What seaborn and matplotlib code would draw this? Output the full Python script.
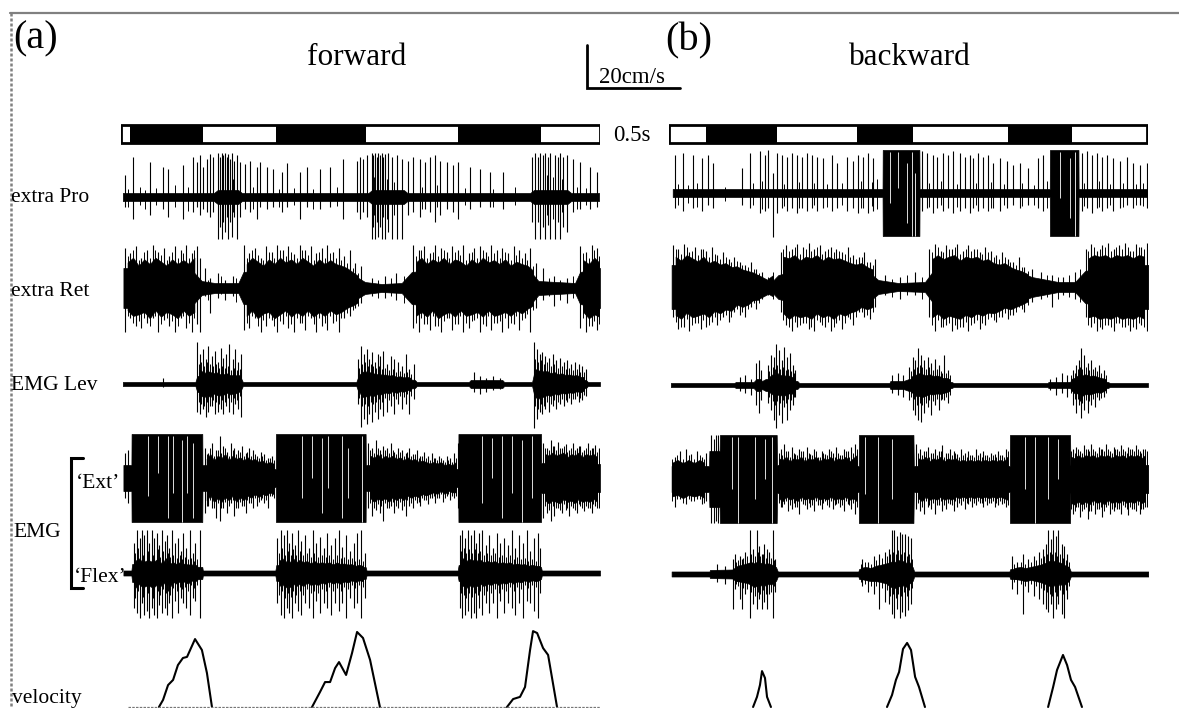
import numpy as np
import pandas as pd
import matplotlib
matplotlib.use("Agg")
import matplotlib.pyplot as plt
import seaborn as sns
from matplotlib.lines import Line2D

W, H = 1179, 708
sns.set_theme(style="white")
plt.rcParams['font.family'] = ['Liberation Serif', 'DejaVu Serif']

# ---------------- data (time in s, amplitudes in arbitrary units) ----------------
# step-cycle bars: black (stance) intervals
BAR_A_END = 2.575
BAR_A_BLACK = [(0.048, 0.441), (0.833, 1.317), (1.812, 2.258)]
BAR_B_END = 2.570
BAR_B_BLACK = [(0.199, 0.581), (1.011, 1.312), (1.823, 2.167)]

# extra Pro
PRO_A_ENV_T = [0.01, 0.50, 0.52, 0.63, 0.65, 1.33, 1.35, 1.52, 1.54, 2.20, 2.22, 2.40, 2.42, 2.57]
PRO_A_ENV_A = [4, 4, 7, 7, 4, 4, 7, 7, 4, 4, 7, 7, 4, 4]
PRO_A_SPIKES = [(0.022, 22, 10), (0.066, 40, 22), (0.156, 35, 18), (0.228, 30, 12), (0.254, 28, 20),
                (0.335, 32, 22), (0.389, 40, 15), (0.407, 35, 10), (0.425, 42, 18), (0.443, 30, 12),
                (0.461, 38, 15), (0.478, 43, 20), (0.496, 40, 15), (0.523, 44, 42), (0.532, 40, 30),
                (0.541, 44, 42), (0.55, 42, 25), (0.559, 44, 35), (0.568, 40, 20), (0.577, 43, 42),
                (0.586, 38, 25), (0.595, 44, 40), (0.608, 36, 20), (0.622, 42, 42), (0.640, 35, 20),
                (0.667, 33, 12), (0.694, 36, 15), (0.729, 30, 22), (0.747, 35, 10), (0.783, 30, 12),
                (0.819, 28, 10), (0.864, 25, 15), (0.891, 34, 10), (0.962, 25, 22), (0.998, 30, 10),
                (1.070, 28, 12), (1.124, 30, 10), (1.195, 38, 22), (1.267, 36, 15), (1.285, 40, 22),
                (1.303, 38, 15), (1.321, 42, 20), (1.348, 44, 42), (1.357, 42, 30), (1.366, 44, 42),
                (1.375, 40, 25), (1.384, 44, 40), (1.393, 42, 30), (1.401, 44, 42), (1.41, 40, 20),
                (1.419, 43, 42), (1.437, 44, 35), (1.455, 40, 42), (1.482, 42, 42), (1.509, 38, 42),
                (1.545, 36, 18), (1.572, 40, 15), (1.608, 38, 20), (1.634, 35, 12), (1.661, 40, 15),
                (1.688, 42, 25), (1.715, 36, 18), (1.751, 35, 12), (1.787, 32, 15), (1.814, 35, 22),
                (1.876, 30, 12), (1.930, 28, 10), (1.984, 25, 10), (2.056, 25, 12), (2.208, 40, 25),
                (2.226, 44, 42), (2.244, 40, 25), (2.253, 44, 42), (2.27, 42, 30), (2.280, 44, 42),
                (2.296, 40, 28), (2.306, 44, 42), (2.333, 42, 42), (2.35, 40, 25), (2.360, 44, 42),
                (2.378, 40, 30), (2.396, 42, 35), (2.432, 38, 15), (2.468, 35, 12), (2.521, 30, 12),
                (2.557, 25, 10)]
PRO_A_SPIKES2 = [(0.04, 8, 10), (0.10, 10, 8), (0.13, 7, 12), (0.19, 9, 8), (0.29, 12, 10),
                 (0.36, 10, 14), (0.52, 18, 20), (0.545, 22, 18), (0.575, 20, 22), (0.60, 18, 15),
                 (0.71, 10, 12), (0.85, 8, 10), (0.93, 9, 8), (1.03, 8, 12), (1.16, 10, 9),
                 (1.36, 20, 18), (1.39, 22, 20), (1.43, 18, 22), (1.47, 15, 18), (1.62, 10, 12),
                 (1.70, 12, 10), (1.85, 9, 8), (2.0, 8, 10), (2.12, 10, 8), (2.24, 18, 20),
                 (2.29, 22, 18), (2.32, 20, 22), (2.37, 18, 15), (2.45, 10, 12), (2.50, 9, 8)]
PRO_B_ENV_T = [0.02, 1.148, 1.149, 1.346, 1.347, 2.047, 2.048, 2.201, 2.202, 2.57]
PRO_B_ENV_A = [4, 4, 43, 43, 4, 4, 43, 43, 4, 4]
PRO_B_SPIKES = [(0.032, 38, 15), (0.077, 40, 18), (0.131, 38, 15), (0.176, 35, 18), (0.211, 38, 12),
                (0.238, 30, 15), (0.391, 25, 12), (0.435, 40, 15), (0.489, 42, 20), (0.516, 38, 18),
                (0.534, 43, 15), (0.557, 20, 44), (0.579, 40, 20), (0.606, 38, 15), (0.633, 36, 18),
                (0.659, 40, 15), (0.686, 38, 20), (0.713, 36, 15), (0.740, 40, 18), (0.767, 38, 15),
                (0.794, 36, 18), (0.830, 35, 15), (0.875, 38, 18), (0.901, 30, 15), (0.955, 36, 18),
                (0.991, 32, 15), (1.018, 38, 20), (1.045, 36, 15), (1.072, 40, 20), (1.099, 35, 18),
                (1.358, 42, 18), (1.385, 40, 15), (1.421, 38, 20), (1.439, 36, 15), (1.475, 40, 18),
                (1.502, 38, 15), (1.529, 42, 20), (1.565, 40, 18), (1.591, 36, 15), (1.618, 38, 20),
                (1.636, 35, 15), (1.663, 40, 18), (1.690, 36, 15), (1.717, 38, 18), (1.744, 30, 15),
                (1.780, 35, 18), (1.815, 32, 15), (1.851, 28, 12), (1.887, 30, 15), (1.932, 25, 12),
                (1.986, 35, 15), (2.013, 38, 18), (2.219, 40, 18), (2.246, 42, 15), (2.272, 38, 20),
                (2.299, 40, 15), (2.326, 36, 18), (2.353, 38, 15), (2.389, 35, 18), (2.425, 32, 15),
                (2.461, 36, 12), (2.496, 30, 15), (2.532, 28, 12), (2.568, 30, 15)]
PRO_B_SPIKES2 = [(0.05, 9, 12), (0.10, 8, 10), (0.15, 10, 14), (0.30, 6, 8), (0.45, 10, 12),
                 (0.50, 12, 16), (0.56, 10, 14), (0.62, 9, 13), (0.70, 11, 15), (0.78, 10, 12),
                 (0.85, 9, 14), (0.93, 10, 12), (1.03, 12, 15), (1.09, 11, 13), (1.12, 14, 16),
                 (1.40, 10, 14), (1.46, 12, 12), (1.55, 9, 14), (1.65, 10, 12), (1.73, 11, 15),
                 (1.80, 9, 12), (1.90, 10, 13), (1.96, 8, 12), (2.03, 12, 15), (2.23, 10, 13),
                 (2.31, 12, 14), (2.37, 9, 12), (2.44, 10, 14), (2.51, 9, 12), (2.55, 10, 13)]
PRO_B_GAPS = [(1.188, 41, -10), (1.233, 41, 5), (1.278, 30, -30), (1.305, 41, -43), (1.323, 20, -43),
              (2.102, 41, -5), (2.156, 35, -25), (2.183, 41, -43)]

# extra Ret
RET_A_ENV_T = [0.013, 0.380, 0.434, 0.505, 0.631, 0.658, 0.864, 1.133, 1.240, 1.312, 1.401, 1.509,
               1.563, 1.760, 2.118, 2.217, 2.244, 2.441, 2.468, 2.575]
RET_A_ENV_A = [20, 18, 7, 5, 5, 16, 20, 20, 14, 6, 4, 5, 16, 20, 20, 13, 7, 5, 16, 20]
RET_A_SPIKES = [(0.02, 40, 44), (0.05, 35, 30), (0.08, 42, 38), (0.11, 30, 40), (0.14, 38, 35),
                (0.17, 43, 30), (0.2, 36, 44), (0.23, 40, 32), (0.26, 32, 38), (0.29, 42, 44),
                (0.32, 38, 30), (0.35, 43, 40), (0.38, 35, 44), (0.41, 42, 36), (0.425, 30, 44),
                (0.45, 20, 8), (0.48, 10, 25), (0.52, 15, 10), (0.56, 8, 12), (0.60, 12, 8),
                (0.66, 43, 42), (0.69, 35, 40), (0.72, 40, 30), (0.75, 30, 44), (0.78, 42, 38),
                (0.81, 36, 32), (0.84, 43, 44), (0.87, 38, 36), (0.90, 42, 40), (0.93, 34, 44),
                (0.96, 43, 35), (0.99, 38, 42), (1.02, 42, 30), (1.05, 35, 44), (1.08, 40, 38),
                (1.11, 43, 42), (1.14, 36, 35), (1.17, 40, 44), (1.20, 32, 30), (1.23, 38, 28),
                (1.26, 25, 20), (1.29, 22, 15), (1.35, 10, 8), (1.42, 12, 10), (1.48, 15, 12),
                (1.57, 43, 40), (1.60, 38, 44), (1.63, 42, 36), (1.66, 35, 42), (1.69, 43, 38),
                (1.72, 40, 44), (1.75, 36, 30), (1.78, 42, 42), (1.81, 38, 36), (1.84, 43, 44),
                (1.87, 35, 40), (1.90, 40, 32), (1.93, 42, 44), (1.96, 36, 38), (1.99, 43, 42),
                (2.02, 38, 35), (2.05, 40, 44), (2.08, 35, 40), (2.11, 42, 36), (2.14, 38, 42),
                (2.17, 35, 30), (2.20, 40, 44), (2.23, 25, 20), (2.27, 20, 12), (2.33, 12, 18),
                (2.40, 10, 15), (2.47, 42, 40), (2.50, 36, 44), (2.53, 43, 38), (2.56, 40, 42)]
RET_A_SPIKES2 = [(0.035, 32, 28), (0.065, 38, 35), (0.095, 28, 33), (0.125, 36, 30), (0.155, 30, 38),
                 (0.185, 38, 28), (0.215, 33, 36), (0.245, 28, 30), (0.275, 36, 33), (0.305, 30, 38),
                 (0.335, 35, 28), (0.365, 30, 35), (0.395, 38, 30), (0.47, 8, 12), (0.54, 12, 6),
                 (0.62, 10, 14), (0.675, 30, 35), (0.705, 38, 28), (0.735, 33, 38), (0.765, 28, 32),
                 (0.795, 36, 30), (0.825, 30, 38), (0.855, 38, 33), (0.885, 32, 28), (0.915, 36, 36),
                 (0.945, 30, 30), (0.975, 38, 35), (1.005, 33, 28), (1.035, 28, 36), (1.065, 36, 30),
                 (1.095, 30, 35), (1.125, 35, 28), (1.155, 30, 33), (1.185, 28, 30), (1.215, 25, 25),
                 (1.245, 20, 22), (1.275, 15, 18), (1.38, 8, 10), (1.45, 10, 8), (1.52, 12, 15),
                 (1.585, 32, 35), (1.615, 38, 30), (1.645, 30, 36), (1.675, 36, 28), (1.705, 32, 38),
                 (1.735, 38, 33), (1.765, 30, 30), (1.795, 36, 36), (1.825, 33, 28), (1.855, 28, 35),
                 (1.885, 36, 33), (1.915, 30, 30), (1.945, 38, 36), (1.975, 32, 28), (2.005, 35, 35),
                 (2.035, 30, 33), (2.065, 36, 30), (2.095, 28, 35), (2.125, 33, 28), (2.155, 30, 32),
                 (2.185, 28, 26), (2.215, 22, 22), (2.30, 10, 8), (2.36, 8, 12), (2.43, 12, 10),
                 (2.485, 35, 30), (2.515, 30, 38), (2.545, 38, 33), (2.57, 32, 36)]
RET_B_ENV_T = [0.014, 0.247, 0.480, 0.552, 0.588, 0.785, 1.054, 1.125, 1.233, 1.376, 1.412, 1.591,
               1.860, 1.950, 2.093, 2.183, 2.237, 2.398, 2.577]
RET_B_ENV_A = [22, 20, 12, 5, 12, 20, 18, 7, 4, 5, 14, 20, 17, 10, 5, 5, 16, 22, 22]
RET_B_SPIKES = [(0.02, 42, 30), (0.05, 38, 42), (0.08, 43, 40), (0.11, 35, 44), (0.14, 40, 36),
                (0.17, 38, 42), (0.20, 36, 40), (0.23, 40, 35), (0.26, 32, 38), (0.29, 35, 30),
                (0.32, 28, 35), (0.35, 30, 25), (0.38, 25, 28), (0.41, 22, 30), (0.44, 25, 20),
                (0.47, 18, 22), (0.50, 15, 12), (0.60, 35, 25), (0.63, 42, 38), (0.66, 38, 44),
                (0.69, 43, 40), (0.72, 40, 36), (0.75, 44, 42), (0.78, 38, 44), (0.81, 42, 35),
                (0.84, 36, 40), (0.87, 40, 44), (0.90, 38, 36), (0.93, 35, 42), (0.96, 40, 30),
                (0.99, 32, 38), (1.02, 30, 25), (1.05, 35, 30), (1.08, 25, 32), (1.11, 28, 20),
                (1.16, 12, 8), (1.24, 10, 12), (1.32, 15, 8), (1.40, 38, 30), (1.43, 43, 44),
                (1.46, 36, 40), (1.49, 42, 38), (1.52, 38, 44), (1.55, 43, 42), (1.58, 36, 40),
                (1.61, 42, 44), (1.64, 38, 36), (1.67, 35, 42), (1.70, 40, 38), (1.73, 36, 30),
                (1.76, 32, 35), (1.79, 35, 30), (1.82, 28, 32), (1.85, 25, 28), (1.88, 30, 20),
                (1.91, 20, 25), (1.95, 18, 15), (2.00, 15, 12), (2.06, 12, 20), (2.12, 10, 8),
                (2.18, 15, 12), (2.24, 38, 30), (2.27, 43, 40), (2.30, 36, 44), (2.33, 42, 42),
                (2.36, 44, 38), (2.39, 38, 44), (2.42, 42, 36), (2.45, 44, 40), (2.48, 36, 44),
                (2.51, 43, 42), (2.54, 40, 38), (2.57, 44, 44)]
RET_B_SPIKES2 = [(0.035, 38, 35), (0.065, 33, 40), (0.095, 40, 32), (0.125, 36, 38), (0.155, 32, 36),
                 (0.185, 38, 33), (0.215, 30, 38), (0.245, 33, 30), (0.275, 28, 33), (0.305, 30, 28),
                 (0.335, 25, 30), (0.365, 26, 22), (0.395, 22, 25), (0.425, 20, 22), (0.455, 18, 16),
                 (0.485, 14, 16), (0.53, 10, 8), (0.56, 15, 12), (0.615, 38, 33), (0.645, 36, 40),
                 (0.675, 40, 35), (0.705, 33, 38), (0.735, 38, 36), (0.765, 36, 40), (0.795, 40, 33),
                 (0.825, 33, 38), (0.855, 38, 35), (0.885, 35, 40), (0.915, 36, 33), (0.945, 33, 36),
                 (0.975, 30, 32), (1.005, 28, 30), (1.035, 30, 25), (1.065, 25, 28), (1.095, 22, 25),
                 (1.20, 8, 10), (1.28, 12, 8), (1.36, 10, 12), (1.415, 35, 38), (1.445, 40, 33),
                 (1.475, 35, 40), (1.505, 38, 36), (1.535, 40, 38), (1.565, 33, 40), (1.595, 38, 35),
                 (1.625, 36, 38), (1.655, 38, 33), (1.685, 33, 36), (1.715, 35, 32), (1.745, 30, 33),
                 (1.775, 28, 30), (1.805, 30, 26), (1.835, 25, 28), (1.865, 22, 25), (1.895, 20, 22),
                 (1.93, 16, 18), (2.03, 12, 10), (2.09, 10, 12), (2.15, 12, 10), (2.21, 18, 15),
                 (2.255, 36, 38), (2.285, 40, 36), (2.315, 38, 40), (2.345, 40, 38), (2.375, 36, 40),
                 (2.405, 40, 36), (2.435, 38, 40), (2.465, 40, 38), (2.495, 36, 40), (2.525, 40, 36),
                 (2.555, 38, 40)]

# EMG Lev
LEV_A_ENV_T = [0.01, 0.40, 0.41, 0.60, 0.645, 0.655, 1.265, 1.275, 1.50, 1.58, 1.59, 1.87, 1.88,
               2.05, 2.06, 2.21, 2.22, 2.35, 2.50, 2.51, 2.575]
LEV_A_ENV_A = [2, 2, 8, 8, 6, 2, 2, 7, 6, 4, 2, 2, 4, 4, 2, 2, 10, 7, 4, 2, 2]
LEV_A_SPIKES = [(0.228, 6, 3), (0.41, 42, 28), (0.425, 30, 30), (0.44, 35, 25), (0.455, 25, 33),
                (0.47, 38, 28), (0.49, 28, 22), (0.505, 33, 30), (0.52, 22, 28), (0.535, 36, 25),
                (0.55, 26, 30), (0.565, 30, 22), (0.58, 40, 28), (0.60, 25, 30), (0.615, 35, 20),
                (0.63, 22, 25), (0.645, 30, 33), (1.275, 25, 20), (1.29, 38, 43), (1.305, 30, 35),
                (1.32, 35, 40), (1.335, 25, 30), (1.35, 32, 38), (1.365, 22, 28), (1.38, 30, 35),
                (1.395, 28, 25), (1.41, 33, 32), (1.43, 20, 28), (1.45, 28, 22), (1.47, 25, 30),
                (1.49, 22, 20), (1.51, 18, 25), (1.53, 30, 20), (1.55, 15, 30), (1.575, 20, 15),
                (1.90, 12, 8), (1.93, 8, 10), (1.96, 6, 8), (2.00, 8, 6), (2.04, 6, 5),
                (2.22, 42, 44), (2.235, 35, 35), (2.25, 30, 28), (2.265, 32, 30), (2.28, 28, 25),
                (2.30, 26, 28), (2.32, 30, 22), (2.34, 24, 25), (2.36, 26, 20), (2.38, 22, 22),
                (2.40, 24, 18), (2.42, 20, 20), (2.44, 22, 15), (2.46, 20, 18), (2.48, 18, 16),
                (2.50, 15, 12)]
LEV_A_SPIKES2 = [(0.418, 20, 18), (0.432, 22, 20), (0.448, 18, 22), (0.462, 22, 18), (0.48, 20, 22),
                 (0.497, 18, 16), (0.512, 20, 18), (0.528, 16, 20), (0.543, 18, 16), (0.558, 16, 18),
                 (0.573, 18, 14), (0.59, 14, 18), (0.607, 16, 14), (0.623, 14, 16), (0.638, 15, 12),
                 (1.282, 16, 14), (1.297, 20, 22), (1.312, 22, 20), (1.328, 18, 22), (1.342, 20, 18),
                 (1.357, 18, 20), (1.372, 16, 18), (1.388, 18, 15), (1.402, 15, 18), (1.42, 16, 14),
                 (1.44, 14, 16), (1.46, 15, 12), (1.48, 12, 15), (1.50, 13, 12), (1.52, 11, 13),
                 (1.54, 12, 10), (1.56, 10, 12), (2.228, 25, 22), (2.243, 22, 25), (2.258, 24, 20),
                 (2.273, 20, 22), (2.29, 22, 18), (2.31, 18, 20), (2.33, 20, 16), (2.35, 16, 18),
                 (2.37, 18, 15), (2.39, 15, 16), (2.41, 16, 14), (2.43, 14, 15), (2.45, 15, 12),
                 (2.47, 12, 14), (2.49, 12, 11)]
LEV_B_ENV_T = [0.01, 0.35, 0.36, 0.455, 0.47, 0.49, 0.50, 0.52, 0.60, 0.69, 0.70, 1.185, 1.19, 1.26,
               1.29, 1.45, 1.52, 1.53, 2.035, 2.04, 2.15, 2.20, 2.30, 2.36, 2.37, 2.575]
LEV_B_ENV_A = [2, 2, 3, 3, 6, 6, 4, 6, 6, 4, 2, 2, 4, 4, 6, 5, 3, 2, 2, 3, 3, 6, 5, 3, 2, 2]
LEV_B_SPIKES = [(0.38, 8, 6), (0.41, 10, 8), (0.44, 6, 10), (0.47, 22, 20), (0.485, 25, 28),
                (0.495, 15, 15), (0.53, 20, 18), (0.55, 30, 25), (0.565, 28, 35), (0.575, 41, 43),
                (0.59, 35, 30), (0.605, 25, 38), (0.62, 38, 22), (0.635, 28, 35), (0.65, 32, 25),
                (0.665, 20, 20), (0.68, 15, 12), (1.20, 10, 8), (1.23, 12, 10), (1.26, 10, 12),
                (1.29, 18, 15), (1.31, 28, 25), (1.325, 25, 30), (1.34, 37, 35), (1.355, 30, 37),
                (1.37, 25, 28), (1.39, 28, 22), (1.41, 22, 30), (1.43, 26, 20), (1.45, 20, 25),
                (1.48, 30, 15), (1.50, 15, 18), (2.05, 6, 5), (2.08, 8, 10), (2.11, 12, 8),
                (2.14, 10, 12), (2.17, 15, 20), (2.19, 20, 28), (2.205, 25, 20), (2.215, 37, 33),
                (2.23, 30, 25), (2.25, 22, 28), (2.27, 25, 20), (2.29, 18, 22), (2.31, 20, 15),
                (2.34, 15, 12)]
LEV_B_SPIKES2 = [(0.54, 14, 12), (0.557, 18, 16), (0.57, 16, 20), (0.583, 20, 16), (0.598, 16, 18),
                 (0.612, 18, 15), (0.628, 15, 18), (0.642, 16, 14), (0.658, 14, 15), (0.672, 12, 12),
                 (1.30, 14, 12), (1.318, 16, 14), (1.333, 18, 20), (1.348, 20, 18), (1.362, 18, 20),
                 (1.38, 16, 18), (1.40, 18, 15), (1.42, 15, 16), (1.44, 16, 14), (1.46, 14, 15),
                 (1.47, 12, 14), (1.49, 12, 12), (1.51, 10, 10), (2.16, 10, 8), (2.18, 12, 14),
                 (2.198, 16, 14), (2.21, 18, 16), (2.222, 16, 18), (2.24, 18, 15), (2.26, 15, 16),
                 (2.28, 16, 14), (2.30, 14, 12), (2.32, 12, 13), (2.35, 10, 8)]

# EMG 'Ext'
EXT_A_ENV_T = [0.013, 0.056, 0.057, 0.437, 0.438, 0.55, 0.70, 0.832, 0.833, 1.315, 1.316, 1.45,
               1.65, 1.813, 1.814, 2.258, 2.259, 2.40, 2.575]
EXT_A_ENV_A = [13, 13, 44, 44, 13, 12, 10, 9, 44, 44, 13, 12, 10, 9, 44, 44, 15, 14, 14]
EXT_A_SPIKES = [(0.02, 25, 20), (0.04, 28, 25), (0.45, 30, 35), (0.47, 25, 28), (0.49, 35, 30),
                (0.51, 28, 40), (0.53, 42, 43), (0.55, 32, 30), (0.57, 26, 35), (0.59, 35, 25),
                (0.61, 30, 38), (0.63, 28, 30), (0.65, 32, 28), (0.67, 25, 35), (0.69, 30, 25),
                (0.71, 28, 30), (0.73, 22, 28), (0.75, 26, 22), (0.77, 24, 25), (0.79, 20, 30),
                (0.81, 22, 18), (1.33, 35, 30), (1.35, 30, 38), (1.37, 38, 32), (1.39, 28, 35),
                (1.41, 32, 43), (1.43, 30, 30), (1.45, 35, 28), (1.47, 26, 35), (1.49, 30, 30),
                (1.51, 28, 32), (1.53, 25, 38), (1.55, 30, 28), (1.57, 24, 30), (1.59, 28, 25),
                (1.61, 22, 28), (1.63, 26, 22), (1.65, 22, 26), (1.67, 25, 20), (1.69, 20, 25),
                (1.71, 22, 20), (1.73, 18, 24), (1.75, 22, 18), (1.77, 20, 22), (1.79, 25, 20),
                (1.81, 35, 30), (2.27, 35, 40), (2.29, 30, 35), (2.31, 38, 43), (2.33, 32, 38),
                (2.35, 36, 30), (2.37, 30, 35), (2.39, 34, 32), (2.41, 28, 38), (2.43, 35, 30),
                (2.45, 30, 35), (2.47, 32, 28), (2.49, 28, 33), (2.51, 35, 30), (2.53, 30, 35),
                (2.55, 33, 28), (2.57, 30, 30)]
EXT_A_SPIKES2 = [(0.46, 24, 28), (0.48, 30, 22), (0.50, 22, 30), (0.52, 28, 25), (0.54, 25, 30),
                 (0.56, 30, 24), (0.58, 22, 28), (0.60, 28, 22), (0.62, 24, 30), (0.64, 26, 24),
                 (0.66, 22, 28), (0.68, 26, 22), (0.70, 22, 25), (0.72, 24, 20), (0.74, 20, 24),
                 (0.76, 22, 20), (0.78, 18, 22), (0.80, 20, 18), (0.82, 18, 20), (1.34, 28, 25),
                 (1.36, 25, 30), (1.38, 30, 26), (1.40, 24, 28), (1.42, 28, 25), (1.44, 25, 30),
                 (1.46, 28, 24), (1.48, 24, 28), (1.50, 26, 24), (1.52, 22, 28), (1.54, 26, 22),
                 (1.56, 22, 25), (1.58, 24, 22), (1.60, 20, 24), (1.62, 22, 20), (1.64, 20, 22),
                 (1.66, 18, 20), (1.68, 20, 18), (1.70, 18, 20), (1.72, 20, 16), (1.74, 16, 20),
                 (1.76, 18, 16), (1.78, 16, 18), (1.80, 20, 18), (2.28, 30, 28), (2.30, 28, 32),
                 (2.32, 32, 28), (2.34, 28, 30), (2.36, 30, 32), (2.38, 32, 26), (2.40, 26, 30),
                 (2.42, 30, 28), (2.44, 28, 32), (2.46, 32, 26), (2.48, 26, 30), (2.50, 30, 28),
                 (2.52, 28, 30), (2.54, 30, 26), (2.56, 26, 30)]
EXT_A_GAPS = [(0.147, 42, -18), (0.201, 42, 5), (0.254, 42, -40), (0.281, 42, -15), (0.326, 38, -44),
              (0.353, 42, -15), (0.389, 35, -40), (0.971, 42, -20), (1.025, 42, 0), (1.079, 40, -35),
              (1.115, 42, -10), (1.186, 42, -40), (1.222, 30, -20), (1.294, 42, -44),
              (1.939, 42, -25), (1.993, 40, 0), (2.047, 42, -40), (2.100, 42, -15), (2.154, 38, -44),
              (2.208, 42, -20)]
EXT_B_ENV_T = [0.014, 0.215, 0.217, 0.272, 0.274, 0.579, 0.581, 1.02, 1.021, 1.314, 1.316, 1.832,
               1.833, 2.156, 2.158, 2.577]
EXT_B_ENV_A = [13, 13, 28, 28, 44, 44, 14, 13, 44, 44, 13, 13, 44, 44, 14, 14]
EXT_B_SPIKES = [(0.03, 22, 28), (0.06, 28, 20), (0.09, 30, 25), (0.12, 25, 22), (0.15, 28, 20),
                (0.18, 22, 25), (0.20, 26, 22), (0.225, 44, 44), (0.24, 40, 44), (0.255, 44, 42),
                (0.265, 44, 44), (0.60, 30, 28), (0.62, 35, 25), (0.64, 28, 32), (0.66, 32, 30),
                (0.68, 25, 28), (0.70, 30, 35), (0.72, 28, 25), (0.74, 32, 30), (0.76, 25, 28),
                (0.78, 30, 32), (0.80, 22, 26), (0.82, 28, 30), (0.84, 25, 22), (0.86, 30, 28),
                (0.88, 26, 30), (0.90, 32, 25), (0.92, 24, 28), (0.94, 30, 32), (0.96, 28, 25),
                (0.98, 32, 30), (1.00, 35, 35), (1.33, 35, 30), (1.35, 30, 32), (1.37, 28, 35),
                (1.39, 32, 28), (1.41, 26, 30), (1.43, 30, 35), (1.45, 28, 26), (1.47, 34, 32),
                (1.49, 26, 30), (1.51, 30, 25), (1.53, 28, 32), (1.55, 25, 28), (1.57, 30, 26),
                (1.59, 26, 30), (1.61, 28, 25), (1.63, 24, 28), (1.65, 30, 26), (1.67, 26, 24),
                (1.69, 28, 28), (1.71, 24, 26), (1.73, 26, 24), (1.75, 25, 28), (1.77, 28, 26),
                (1.79, 24, 25), (1.81, 30, 28), (2.17, 30, 35), (2.19, 32, 28), (2.21, 28, 38),
                (2.23, 34, 30), (2.25, 30, 40), (2.27, 35, 32), (2.29, 28, 35), (2.31, 32, 30),
                (2.33, 30, 38), (2.35, 35, 28), (2.37, 28, 35), (2.39, 32, 32), (2.41, 30, 30),
                (2.43, 34, 35), (2.45, 28, 28), (2.47, 32, 36), (2.49, 30, 30), (2.51, 34, 32),
                (2.53, 28, 35), (2.55, 30, 30), (2.57, 28, 28)]
EXT_B_SPIKES2 = [(0.015, 20, 22), (0.045, 24, 20), (0.075, 20, 24), (0.105, 24, 20), (0.135, 20, 22),
                 (0.165, 24, 20), (0.19, 20, 24), (0.59, 26, 24), (0.61, 24, 28), (0.63, 28, 22),
                 (0.65, 22, 26), (0.67, 26, 24), (0.69, 24, 28), (0.71, 28, 22), (0.73, 22, 26),
                 (0.75, 26, 24), (0.77, 24, 26), (0.79, 28, 22), (0.81, 22, 26), (0.83, 26, 24),
                 (0.85, 24, 26), (0.87, 28, 22), (0.89, 22, 26), (0.91, 26, 24), (0.93, 24, 26),
                 (0.95, 28, 22), (0.97, 22, 26), (0.99, 26, 24), (1.01, 30, 28), (1.34, 26, 24),
                 (1.36, 24, 28), (1.38, 28, 22), (1.40, 22, 26), (1.42, 26, 24), (1.44, 24, 26),
                 (1.46, 28, 22), (1.48, 22, 26), (1.50, 26, 24), (1.52, 24, 26), (1.54, 26, 22),
                 (1.56, 22, 24), (1.58, 24, 22), (1.60, 22, 24), (1.62, 24, 22), (1.64, 22, 24),
                 (1.66, 24, 22), (1.68, 22, 24), (1.70, 24, 22), (1.72, 22, 24), (1.74, 24, 22),
                 (1.76, 22, 24), (1.78, 24, 22), (1.80, 22, 24), (1.82, 28, 26), (2.16, 28, 30),
                 (2.18, 26, 32), (2.20, 30, 28), (2.22, 26, 32), (2.24, 30, 28), (2.26, 28, 32),
                 (2.28, 30, 26), (2.30, 26, 30), (2.32, 30, 28), (2.34, 28, 32), (2.36, 30, 26),
                 (2.38, 26, 30), (2.40, 30, 28), (2.42, 28, 30), (2.44, 30, 26), (2.46, 26, 30),
                 (2.48, 30, 28), (2.50, 28, 30), (2.52, 30, 26), (2.54, 26, 30), (2.56, 30, 28)]
EXT_B_GAPS = [(0.337, 42, -10), (0.373, 42, -44), (0.462, 42, -20), (0.516, 40, 0), (0.552, 42, -44),
              (1.054, 42, -15), (1.125, 42, -44), (1.197, 40, -20), (1.914, 42, -10), (1.968, 42, -44),
              (2.039, 42, -20), (2.093, 40, 0)]

# EMG 'Flex'
FLEX_A_ENV_T = [0.013, 0.056, 0.06, 0.25, 0.437, 0.44, 0.83, 0.835, 1.0, 1.315, 1.32, 1.81, 1.815,
                2.0, 2.258, 2.262, 2.575]
FLEX_A_ENV_A = [2.5, 2.5, 9, 8, 6, 2.5, 2.5, 8, 7, 6, 2.5, 2.5, 8, 7, 6, 2.5, 2.5]
FLEX_A_SPIKES = [(0.07, 30, 35), (0.084, 43, 40), (0.10, 35, 45), (0.111, 43, 30), (0.125, 38, 42),
                 (0.138, 43, 38), (0.152, 30, 45), (0.165, 43, 35), (0.18, 35, 42), (0.192, 40, 45),
                 (0.205, 28, 32), (0.219, 43, 40), (0.235, 32, 35), (0.246, 38, 42), (0.26, 25, 30),
                 (0.272, 43, 45), (0.29, 30, 28), (0.308, 35, 40), (0.32, 22, 25), (0.335, 40, 30),
                 (0.35, 25, 35), (0.371, 43, 42), (0.385, 20, 25), (0.398, 30, 28), (0.425, 43, 45),
                 (0.84, 35, 30), (0.86, 43, 42), (0.875, 38, 45), (0.89, 43, 35), (0.905, 30, 40),
                 (0.92, 40, 45), (0.935, 28, 30), (0.95, 43, 38), (0.97, 32, 42), (0.99, 38, 30),
                 (1.01, 25, 35), (1.03, 43, 45), (1.05, 30, 28), (1.07, 36, 40), (1.09, 25, 30),
                 (1.11, 40, 35), (1.13, 28, 42), (1.15, 35, 30), (1.17, 43, 38), (1.19, 26, 30),
                 (1.21, 38, 45), (1.23, 22, 25), (1.25, 30, 35), (1.27, 40, 30), (1.29, 43, 45),
                 (1.31, 20, 25), (1.82, 38, 35), (1.835, 43, 45), (1.85, 35, 42), (1.865, 43, 38),
                 (1.88, 38, 45), (1.895, 43, 40), (1.91, 30, 45), (1.925, 40, 35), (1.94, 43, 42),
                 (1.96, 28, 30), (1.98, 38, 40), (2.00, 25, 30), (2.02, 40, 45), (2.04, 30, 28),
                 (2.06, 35, 40), (2.08, 28, 30), (2.10, 43, 35), (2.12, 25, 42), (2.14, 38, 30),
                 (2.16, 30, 45), (2.18, 43, 28), (2.20, 22, 30), (2.22, 35, 38), (2.24, 40, 45),
                 (2.255, 25, 20)]
FLEX_A_SPIKES2 = [(0.077, 20, 25), (0.093, 25, 18), (0.118, 18, 24), (0.145, 22, 20), (0.172, 18, 25),
                  (0.198, 24, 18), (0.212, 16, 22), (0.228, 22, 16), (0.24, 15, 20), (0.253, 20, 18),
                  (0.266, 16, 22), (0.28, 18, 15), (0.30, 15, 18), (0.315, 18, 14), (0.328, 14, 16),
                  (0.342, 16, 14), (0.36, 14, 18), (0.378, 15, 12), (0.39, 12, 15), (0.41, 14, 12),
                  (0.85, 20, 22), (0.867, 25, 18), (0.882, 18, 25), (0.897, 22, 20), (0.912, 18, 24),
                  (0.927, 24, 18), (0.942, 18, 22), (0.96, 22, 18), (0.98, 18, 22), (1.00, 20, 16),
                  (1.02, 16, 20), (1.04, 20, 18), (1.06, 16, 20), (1.08, 18, 16), (1.10, 16, 18),
                  (1.12, 18, 14), (1.14, 14, 18), (1.16, 18, 15), (1.18, 15, 18), (1.20, 16, 14),
                  (1.22, 14, 16), (1.24, 15, 12), (1.26, 12, 15), (1.28, 14, 12), (1.30, 12, 14),
                  (1.828, 22, 20), (1.842, 25, 22), (1.857, 20, 25), (1.872, 24, 20), (1.887, 20, 24),
                  (1.902, 24, 20), (1.917, 20, 22), (1.932, 22, 18), (1.95, 18, 22), (1.97, 20, 18),
                  (1.99, 18, 20), (2.01, 20, 16), (2.03, 16, 20), (2.05, 18, 16), (2.07, 16, 18),
                  (2.09, 18, 14), (2.11, 14, 18), (2.13, 16, 14), (2.15, 14, 16), (2.17, 15, 12),
                  (2.19, 12, 15), (2.21, 14, 12), (2.23, 12, 14), (2.25, 12, 12)]
FLEX_B_ENV_T = [0.014, 0.218, 0.22, 0.34, 0.36, 0.575, 0.585, 1.018, 1.022, 1.15, 1.20, 1.31, 1.318,
                1.83, 1.835, 1.95, 2.0, 2.15, 2.16, 2.577]
FLEX_B_ENV_A = [2.5, 2.5, 4, 4.5, 7, 7, 2.5, 2.5, 5, 6, 8, 7, 2.5, 2.5, 5, 5, 7, 7, 2.5, 2.5]
FLEX_B_SPIKES = [(0.26, 10, 8), (0.30, 8, 10), (0.346, 15, 35), (0.355, 20, 15), (0.38, 18, 25),
                 (0.391, 15, 35), (0.41, 22, 20), (0.435, 44, 44), (0.45, 25, 30), (0.471, 44, 35),
                 (0.485, 28, 25), (0.498, 20, 35), (0.51, 30, 28), (0.525, 25, 35), (0.54, 22, 20),
                 (0.561, 44, 44), (0.57, 15, 18), (1.04, 15, 12), (1.07, 12, 18), (1.10, 18, 20),
                 (1.13, 20, 35), (1.16, 22, 28), (1.18, 25, 30), (1.197, 44, 40), (1.21, 44, 44),
                 (1.225, 38, 35), (1.24, 42, 44), (1.255, 40, 38), (1.27, 40, 42), (1.285, 38, 36),
                 (1.30, 36, 30), (1.845, 18, 15), (1.87, 12, 20), (1.905, 20, 40), (1.93, 15, 18),
                 (1.96, 18, 22), (1.99, 22, 25), (2.01, 25, 30), (2.025, 30, 35), (2.039, 44, 38),
                 (2.052, 35, 30), (2.066, 44, 44), (2.08, 38, 35), (2.093, 44, 30), (2.11, 30, 40),
                 (2.125, 28, 44), (2.14, 20, 25)]
FLEX_B_SPIKES2 = [(0.36, 12, 10), (0.37, 14, 12), (0.40, 16, 14), (0.42, 18, 15), (0.44, 20, 18),
                  (0.46, 18, 22), (0.48, 22, 18), (0.49, 18, 20), (0.505, 20, 16), (0.52, 16, 20),
                  (0.535, 18, 16), (0.55, 16, 18), (0.565, 14, 12), (1.03, 10, 8), (1.055, 12, 10),
                  (1.085, 10, 12), (1.115, 14, 12), (1.145, 16, 14), (1.17, 18, 16), (1.19, 20, 22),
                  (1.205, 22, 20), (1.218, 20, 24), (1.232, 24, 20), (1.248, 20, 22), (1.262, 22, 18),
                  (1.278, 18, 22), (1.292, 20, 16), (1.305, 15, 14), (1.855, 10, 8), (1.89, 12, 10),
                  (1.915, 10, 12), (1.945, 12, 10), (1.975, 14, 12), (2.00, 16, 14), (2.018, 18, 16),
                  (2.032, 20, 18), (2.046, 22, 20), (2.06, 20, 22), (2.073, 22, 18), (2.087, 18, 22),
                  (2.10, 20, 16), (2.118, 16, 20), (2.133, 14, 16), (2.148, 12, 12)]

# velocity (cm/s), peak id
VEL_A_T = [0.204, 0.226, 0.253, 0.280, 0.306, 0.333, 0.355, 0.398, 0.435, 0.462, 0.489,
           1.027, 1.070, 1.097, 1.124, 1.151, 1.172, 1.210, 1.242, 1.269, 1.301, 1.339, 1.392,
           2.075, 2.108, 2.145, 2.172, 2.199, 2.215, 2.237, 2.269, 2.296, 2.344]
VEL_A_V = [0, 3.3, 10.2, 12.6, 19.5, 22.8, 23.3, 31.6, 26.5, 15.8, 0,
           0, 7.0, 11.6, 11.6, 18.1, 20.9, 14.9, 25.1, 34.9, 32.1, 21.9, 0,
           0, 3.7, 4.7, 9.3, 26.5, 35.3, 34.4, 27.4, 24.2, 0]
VEL_A_PEAK = [1] * 11 + [2] * 12 + [3] * 10
VEL_B_T = [0.452, 0.473, 0.489, 0.500, 0.516, 0.527, 0.548,
           1.172, 1.199, 1.220, 1.237, 1.258, 1.280, 1.301, 1.323, 1.344, 1.376,
           2.038, 2.065, 2.086, 2.118, 2.140, 2.161, 2.183, 2.220]
VEL_B_V = [0, 4.7, 10.2, 16.7, 13.5, 4.7, 0,
           0, 5.6, 12.6, 16.3, 27.0, 29.8, 26.5, 14.0, 9.3, 0,
           0, 9.3, 17.2, 24.2, 19.5, 12.6, 9.3, 0]
VEL_B_PEAK = [1] * 7 + [2] * 10 + [3] * 8

ROW_LABELS = ["extra Pro", "extra Ret", "EMG Lev", "EMG", "velocity"]
SCALE_V = 20      # cm/s
SCALE_T = 0.5     # s

# ---------------- layout ----------------
PX_PER_CMS = 43 / 20.0
fig = plt.figure(figsize=(W / 100, H / 100), dpi=100)
fig.patch.set_facecolor('white')


def panel(left_px):
    ax = fig.add_axes([left_px / W, 0, 479 / W, 1])
    ax.set_xlim(0, 2.575)
    ax.set_ylim(0, H)
    ax.set_axis_off()
    ax.patch.set_alpha(0)
    return ax


ax_a = panel(121)
ax_b = panel(669)


def draw_bar(ax, end, blacks):
    ax.barh(574, end, height=18, left=0, color='white', edgecolor='black', linewidth=2.0, zorder=2)
    for s, e in blacks:
        ax.barh(574, e - s, height=18, left=s, color='black', edgecolor='black', linewidth=0, zorder=3)


def unpack(spikes):
    st = np.array([s[0] for s in spikes], float)
    su = np.array([s[1] for s in spikes], float)
    sd = np.array([s[2] for s in spikes], float)
    return st, su, sd


def jagged_fill(ax, offset, spikes, frac):
    """Dense core following the burst spikes (ragged edge)."""
    st, su, sd = unpack(spikes)
    order = np.argsort(st)
    st, su, sd = st[order], su[order], sd[order]
    breaks = np.where(np.diff(st) > 0.036)[0] + 1
    for idx in np.split(np.arange(len(st)), breaks):
        if len(idx) < 2:
            continue
        ax.fill_between(st[idx], offset - frac * sd[idx], offset + frac * su[idx],
                        color='black', linewidth=0.4)


def draw_trace(ax, offset, env_t, env_a, spikes, spikes2=None, gaps=None, frac=0.0):
    env_t = np.asarray(env_t, float)
    env_a = np.asarray(env_a, float)
    ax.fill_between(env_t, offset - env_a, offset + env_a, color='black', linewidth=0.5)
    if spikes2 and frac > 0:
        jagged_fill(ax, offset, spikes2, frac)
    st, su, sd = unpack(spikes)
    ax.vlines(st, offset - sd, offset + su, color='black', linewidth=0.8)
    if spikes2:
        st, su, sd = unpack(spikes2)
        ax.vlines(st, offset - sd, offset + su, color='black', linewidth=0.7)
    if gaps:
        gt = np.array([g[0] for g in gaps])
        gtop = np.array([g[1] for g in gaps], float)
        gbot = np.array([g[2] for g in gaps], float)
        ax.vlines(gt, offset + gbot, offset + gtop, color='white', linewidth=0.6)


def draw_velocity(ax, t, v, peak, baseline):
    df = pd.DataFrame({"t": t, "y": np.asarray(v) * PX_PER_CMS + 1, "peak": peak})
    sns.lineplot(data=df, x="t", y="y", units="peak", estimator=None, sort=False,
                 color='black', linewidth=1.5, ax=ax, legend=False)
    if baseline:
        ax.plot([0.04, 2.575], [1, 1], color='#777777', linewidth=0.9, linestyle=(0, (2, 1)))


draw_bar(ax_a, BAR_A_END, BAR_A_BLACK)
draw_bar(ax_b, BAR_B_END, BAR_B_BLACK)

draw_trace(ax_a, 511, PRO_A_ENV_T, PRO_A_ENV_A, PRO_A_SPIKES, PRO_A_SPIKES2)
draw_trace(ax_b, 515, PRO_B_ENV_T, PRO_B_ENV_A, PRO_B_SPIKES, PRO_B_SPIKES2, PRO_B_GAPS)
draw_trace(ax_a, 420, RET_A_ENV_T, RET_A_ENV_A, RET_A_SPIKES, RET_A_SPIKES2, frac=0.8)
draw_trace(ax_b, 421, RET_B_ENV_T, RET_B_ENV_A, RET_B_SPIKES, RET_B_SPIKES2, frac=0.8)
draw_trace(ax_a, 324, LEV_A_ENV_T, LEV_A_ENV_A, LEV_A_SPIKES, LEV_A_SPIKES2, frac=0.6)
draw_trace(ax_b, 323, LEV_B_ENV_T, LEV_B_ENV_A, LEV_B_SPIKES, LEV_B_SPIKES2, frac=0.6)
draw_trace(ax_a, 230, EXT_A_ENV_T, EXT_A_ENV_A, EXT_A_SPIKES, EXT_A_SPIKES2, EXT_A_GAPS, frac=0.8)
draw_trace(ax_b, 229, EXT_B_ENV_T, EXT_B_ENV_A, EXT_B_SPIKES, EXT_B_SPIKES2, EXT_B_GAPS, frac=0.8)
draw_trace(ax_a, 135, FLEX_A_ENV_T, FLEX_A_ENV_A, FLEX_A_SPIKES, FLEX_A_SPIKES2, frac=0.6)
draw_trace(ax_b, 134, FLEX_B_ENV_T, FLEX_B_ENV_A, FLEX_B_SPIKES, FLEX_B_SPIKES2, frac=0.6)

draw_velocity(ax_a, VEL_A_T, VEL_A_V, VEL_A_PEAK, True)
draw_velocity(ax_b, VEL_B_T, VEL_B_V, VEL_B_PEAK, False)

# scale bar (in panel a data units)
sx = 2.505
sy = 620
ax_a.plot([sx, sx, sx + SCALE_T], [sy + SCALE_V * PX_PER_CMS, sy, sy], color='black',
          linewidth=2.0, clip_on=False, solid_joinstyle='miter', zorder=5)


def ftext(x, y, s, size, ha='left'):
    fig.text(x / W, 1 - y / H, s, fontsize=size, ha=ha, va='baseline', color='black')


ftext(13, 48, "(a)", 29)
ftext(665, 50, "(b)", 29)
ftext(357, 65, "forward", 22.5, ha='center')
ftext(910, 65, "backward", 22.5, ha='center')
ftext(599, 83, f"{SCALE_V}cm/s", 16.5)
ftext(613, 141, f"{SCALE_T}s", 16.5)
ftext(11, 202, ROW_LABELS[0], 15.5)
ftext(11, 296, ROW_LABELS[1], 15.5)
ftext(11, 390, ROW_LABELS[2], 15.5)
ftext(13, 537, ROW_LABELS[3], 15.5)
ftext(12, 703, ROW_LABELS[4], 15.5)
ftext(76, 488, "\u2018Ext\u2019", 15.5)
ftext(74, 582, "\u2018Flex\u2019", 15.5)

# bracket for EMG
fig.add_artist(Line2D([83 / W, 70.5 / W, 70.5 / W, 83 / W],
                      [1 - 458 / H, 1 - 458 / H, 1 - 588 / H, 1 - 588 / H],
                      color='black', linewidth=2.2, solid_joinstyle='miter'))
# frame lines
fig.add_artist(Line2D([10 / W, 1.0], [1 - 13 / H, 1 - 13 / H], color='#808080', linewidth=1.6))
fig.add_artist(Line2D([11 / W, 11 / W], [1 - 13 / H, 0], color='#808080', linewidth=1.8,
                      linestyle=(0, (1.2, 0.8))))

fig.savefig("out.png", dpi=100, facecolor='white')
